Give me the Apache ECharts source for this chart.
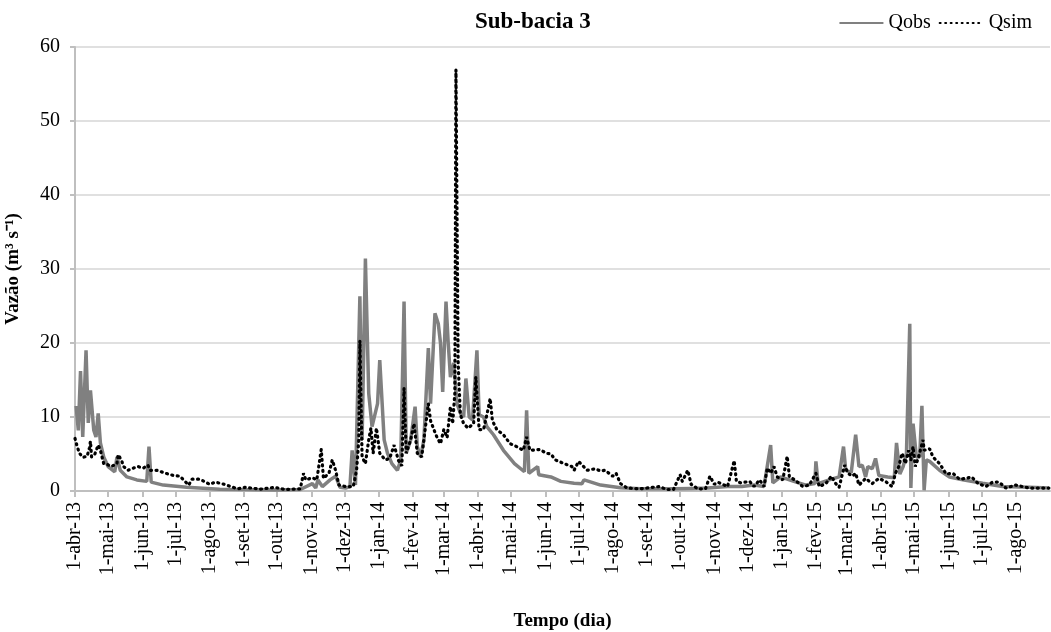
<!DOCTYPE html>
<html>
<head>
<meta charset="utf-8">
<script src="https://cdn.jsdelivr.net/npm/echarts@6/dist/echarts.min.js"></script>
<style>
  html, body { margin: 0; padding: 0; background: #fff; }
  #main { width: 1051px; height: 632px; }
</style>
</head>
<body>
<div id="main"></div>
<script>
// Sub-bacia 3: vazão observada x simulada (dias contados a partir de 1-abr-13)
var tickLabels = ['1-abr-13', '1-mai-13', '1-jun-13', '1-jul-13', '1-ago-13', '1-set-13', '1-out-13',
    '1-nov-13', '1-dez-13', '1-jan-14', '1-fev-14', '1-mar-14', '1-abr-14', '1-mai-14', '1-jun-14',
    '1-jul-14', '1-ago-14', '1-set-14', '1-out-14', '1-nov-14', '1-dez-14', '1-jan-15', '1-fev-15',
    '1-mar-15', '1-abr-15', '1-mai-15', '1-jun-15', '1-jul-15', '1-ago-15'];
var meses = ['jan', 'fev', 'mar', 'abr', 'mai', 'jun', 'jul', 'ago', 'set', 'out', 'nov', 'dez'];

// [dia, vazão]
var qobs = [
    [1, 11.5], [3, 8.2], [5, 16.2], [7, 7.3], [10, 19.0], [12, 9.2], [14, 13.6], [17, 8.2], [19, 7.3],
    [21, 10.5], [23, 6.5], [26, 4.6], [30, 3.3], [36, 2.6], [38, 4.6], [41, 2.8], [47, 1.9], [56, 1.5],
    [65, 1.3], [67, 6.0], [69, 1.2], [80, 0.8], [101, 0.5], [131, 0.25], [150, 0.2], [183, 0.15],
    [204, 0.2], [215, 1.0], [218, 0.4], [220, 1.5], [224, 0.6], [231, 1.5], [236, 2.0], [240, 0.5],
    [245, 0.4], [249, 0.6], [251, 5.5], [254, 0.8], [258, 26.3], [260, 6.9], [263, 31.4], [266, 13.2],
    [269, 8.7], [274, 11.8], [276, 17.7], [280, 6.9], [283, 5.1], [287, 3.7], [292, 2.8], [295, 4.2],
    [298, 25.6], [300, 5.1], [304, 6.9], [308, 11.4], [310, 6.0], [313, 4.6], [316, 6.9], [320, 19.3],
    [322, 11.8], [326, 24.0], [329, 22.6], [331, 20.0], [333, 13.4], [336, 25.6], [338, 20.0],
    [340, 15.4], [343, 17.3], [346, 11.8], [349, 10.5], [352, 10.0], [354, 15.2], [357, 10.0],
    [360, 9.6], [364, 19.0], [366, 10.3], [370, 10.0], [373, 8.7], [379, 7.6], [388, 5.5], [398, 3.7],
    [407, 2.6], [409, 10.9], [411, 2.4], [419, 3.3], [420, 2.2], [431, 1.9], [440, 1.3], [452, 1.04],
    [459, 0.97], [461, 1.5], [476, 0.8], [494, 0.45], [512, 0.3], [543, 0.3], [558, 0.35], [573, 0.4],
    [591, 0.6], [604, 0.6], [615, 0.8], [624, 0.6], [630, 6.2], [632, 1.1], [639, 1.9], [651, 1.3],
    [662, 0.8], [670, 1.0], [671, 4.0], [673, 1.0], [683, 1.5], [692, 1.9], [696, 6.0], [698, 2.8],
    [703, 2.5], [707, 7.6], [710, 3.3], [713, 3.5], [716, 1.9], [718, 3.3], [722, 3.0], [725, 4.4],
    [728, 2.1], [736, 1.9], [742, 1.8], [744, 6.5], [747, 2.3], [750, 3.3], [753, 5.1], [756, 22.6],
    [757, 0.4], [759, 9.1], [762, 4.6], [765, 4.6], [767, 11.5], [769, 0.1], [771, 4.2], [774, 4.0],
    [783, 2.8], [792, 1.9], [804, 1.5], [822, 1.04], [840, 0.6], [864, 0.5], [882, 0.4]
];

var qsim = [
    [0, 7.1], [2, 6.0], [4, 5.1], [7, 4.55], [11, 4.7], [13, 5.8], [14, 6.7], [15, 4.6], [18, 5.0],
    [21, 6.2], [23, 5.5], [26, 3.7], [29, 3.6], [33, 3.3], [38, 3.7], [39, 4.9], [42, 4.2], [44, 3.3],
    [48, 2.8], [53, 3.1], [57, 3.3], [62, 3.1], [66, 3.5], [68, 2.8], [74, 2.8], [82, 2.4], [89, 2.1],
    [95, 2.0], [103, 0.8], [106, 1.6], [113, 1.6], [122, 0.9], [127, 1.2], [134, 0.95], [141, 0.6],
    [147, 0.3], [152, 0.4], [154, 0.5], [168, 0.25], [181, 0.5], [190, 0.2], [204, 0.3], [207, 2.4],
    [209, 1.5], [215, 1.8], [219, 1.5], [223, 5.6], [225, 1.7], [230, 2.4], [233, 4.2], [236, 2.8],
    [239, 0.8], [245, 0.6], [252, 0.6], [255, 2.8], [257, 6.9], [258, 20.3], [260, 4.6], [263, 3.7],
    [266, 6.9], [268, 8.5], [270, 5.1], [273, 8.5], [276, 5.1], [281, 4.2], [285, 4.4], [289, 6.2],
    [293, 4.1], [296, 3.4], [298, 13.9], [300, 5.1], [304, 6.9], [307, 9.1], [310, 5.1], [314, 4.6],
    [320, 11.8], [322, 9.5], [325, 8.3], [328, 7.2], [331, 6.4], [334, 8.3], [337, 7.2], [340, 11.4],
    [342, 9.1], [344, 13.2], [345, 56.9], [347, 17.3], [349, 10.3], [352, 9.1], [356, 8.5], [361, 9.1],
    [363, 15.4], [366, 8.3], [370, 8.3], [373, 10.3], [376, 12.5], [378, 9.5], [382, 8.3], [388, 7.6],
    [394, 6.4], [400, 6.0], [406, 5.5], [409, 7.3], [412, 5.5], [421, 5.6], [427, 5.1], [431, 5.0],
    [435, 4.2], [443, 3.7], [450, 3.3], [452, 2.8], [456, 4.0], [464, 2.8], [471, 3.0], [476, 2.7],
    [480, 2.8], [487, 2.0], [490, 2.4], [494, 1.0], [500, 0.4], [512, 0.3], [529, 0.6], [536, 0.2],
    [542, 0.2], [548, 2.2], [550, 1.3], [555, 2.8], [558, 0.9], [564, 0.3], [571, 0.3], [575, 2.0],
    [579, 0.9], [582, 1.2], [591, 0.6], [597, 4.1], [599, 1.3], [603, 1.1], [611, 1.3], [615, 0.6],
    [620, 1.5], [624, 0.6], [627, 3.1], [630, 2.4], [633, 3.3], [636, 1.9], [641, 1.5], [645, 4.7],
    [647, 1.9], [652, 1.5], [653, 1.7], [659, 0.6], [665, 0.8], [671, 2.4], [674, 0.6], [680, 1.0],
    [685, 2.0], [689, 1.0], [692, 0.5], [697, 3.5], [700, 2.4], [704, 2.0], [707, 2.4], [710, 0.8],
    [716, 1.7], [722, 1.0], [728, 1.7], [734, 1.3], [740, 0.6], [743, 2.4], [746, 3.3], [749, 5.1],
    [752, 3.7], [755, 5.5], [757, 4.2], [759, 6.0], [761, 3.3], [764, 4.6], [768, 6.9], [769, 5.5],
    [774, 5.7], [777, 4.6], [783, 3.7], [789, 2.3], [795, 2.4], [801, 1.6], [807, 1.7], [812, 1.9],
    [818, 1.0], [825, 0.6], [831, 1.2], [837, 1.2], [843, 0.4], [852, 0.8], [858, 0.6], [864, 0.4],
    [876, 0.4], [882, 0.4]
];

var DIA = 86400000;
var inicio = Date.UTC(2013, 3, 1);

// dia (a partir de 1-abr-13) de cada rótulo "1-mmm-aa"
var tickDias = tickLabels.map(function (s) {
    var partes = s.split('-');
    var t = Date.UTC(2000 + Number(partes[2]), meses.indexOf(partes[1]), Number(partes[0]));
    return Math.round((t - inicio) / DIA);
});

function rotulo(v) {
    var i = tickDias.indexOf(Math.round(v));
    return i >= 0 ? tickLabels[i] : '';
}

var fonte = 'Liberation Serif';
var myChart = echarts.init(document.getElementById('main'));

option = {
    backgroundColor: '#fff',
    animation: false,
    title: {
        text: 'Sub-bacia 3',
        left: 470,
        top: 6,
        textStyle: { fontFamily: fonte, fontSize: 23, fontWeight: 'bold', color: '#000' }
    },
    legend: {
        right: 14,
        top: 8,
        itemWidth: 44,
        itemHeight: 12,
        itemGap: 8,
        itemStyle: { opacity: 0 },
        textStyle: { fontFamily: fonte, fontSize: 20, color: '#000' },
        data: ['Qobs', 'Qsim']
    },
    grid: {
        left: 75,
        right: 1,
        top: 47,
        bottom: 141,
        outerBoundsMode: 'none'
    },
    xAxis: {
        type: 'value',
        min: 0,
        max: 883,
        name: 'Tempo (dia)',
        nameLocation: 'middle',
        nameGap: 121,
        nameTextStyle: { fontFamily: fonte, fontSize: 19, fontWeight: 'bold', color: '#000' },
        axisLine: { show: true, onZero: false, lineStyle: { color: '#bfbfbf', width: 2 } },
        axisTick: { show: true, length: 6, customValues: tickDias, lineStyle: { color: '#bfbfbf', width: 2 } },
        axisLabel: {
            rotate: 90,
            margin: 11,
            fontFamily: fonte,
            fontSize: 20,
            color: '#000',
            customValues: tickDias,
            hideOverlap: false,
            formatter: rotulo
        },
        splitLine: { show: false }
    },
    yAxis: {
        type: 'value',
        min: 0,
        max: 60,
        interval: 10,
        name: 'Vazão (m³ s⁻¹)',
        nameLocation: 'middle',
        nameGap: 52,
        nameRotate: 90,
        nameTextStyle: { fontFamily: fonte, fontSize: 19, fontWeight: 'bold', color: '#000' },
        axisLine: { show: true, lineStyle: { color: '#bfbfbf', width: 2 } },
        axisTick: { show: true, length: 5, lineStyle: { color: '#bfbfbf', width: 2 } },
        axisLabel: { fontFamily: fonte, fontSize: 20, color: '#000', margin: 15 },
        splitLine: { lineStyle: { color: '#e0e0e0', width: 2 } }
    },
    series: [
        {
            name: 'Qobs',
            type: 'line',
            showSymbol: false,
            symbol: 'none',
            lineStyle: { color: '#808080', width: 3.5 },
            itemStyle: { color: '#808080' },
            data: qobs
        },
        {
            name: 'Qsim',
            type: 'line',
            showSymbol: false,
            symbol: 'none',
            lineStyle: { color: '#000', width: 3.2, type: [1, 4.5], cap: 'round' },
            itemStyle: { color: '#000' },
            data: qsim
        }
    ]
};

myChart.setOption(option);
</script>
</body>
</html>
